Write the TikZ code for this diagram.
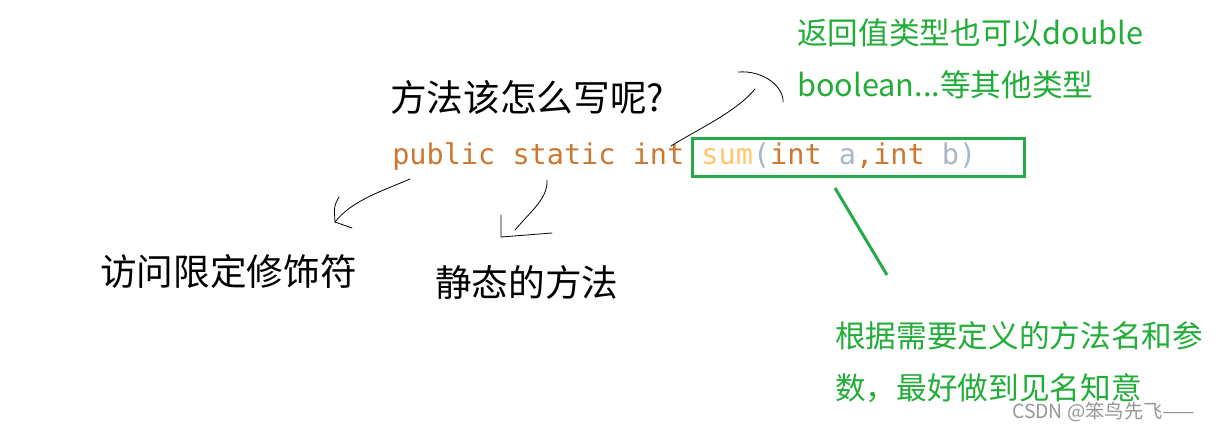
\documentclass[tikz,border=0pt]{standalone}
\usepackage{fontspec}
\newfontfamily\cjk{Noto Sans CJK SC}
\newfontfamily\codefont{DejaVu Sans Mono}
\definecolor{kw}{HTML}{CC7832}
\definecolor{fn}{HTML}{FFC66D}
\definecolor{par}{HTML}{A9B7C6}
\definecolor{notegreen}{RGB}{34,172,56}
\definecolor{framegreen}{RGB}{38,170,72}
\definecolor{wmgray}{RGB}{150,150,150}
\tikzset{
  headtxt/.style={inner sep=0pt,font=\cjk\fontsize{27.5}{33}\selectfont},
  tagtxt/.style={inner sep=0pt,font=\cjk\fontsize{27.5}{33}\selectfont},
  codetxt/.style={inner sep=0pt,font=\codefont\fontsize{21.4}{26}\selectfont},
  notetxt/.style={inner sep=0pt,align=left,text=notegreen,font=\cjk\fontsize{23}{39}\selectfont},
  wmtxt/.style={inner sep=0pt,text=wmgray,font=\cjk\fontsize{14.5}{16}\selectfont},
  sigbox/.style={draw=framegreen,line width=2.25pt,minimum width=249pt,minimum height=28.5pt},
  pen/.style={draw=black,line width=0.6pt,line cap=round,line join=round},
  hint/.style={draw=framegreen,line width=2.25pt}
}
\begin{document}
\begin{tikzpicture}[x=0.75pt,y=-0.75pt]
\useasboundingbox (0,0) rectangle (1219,425);

\node[headtxt,anchor=west] (Q) at (390,97.5) {方法该怎么写呢?};
\node[codetxt,anchor=base west] (C) at (392,164) {\textcolor{kw}{public static int} \textcolor{fn}{sum}\textcolor{par}{(}\textcolor{kw}{int} \textcolor{par}{a}\textcolor{kw}{,int} \textcolor{par}{b)}};
\node[sigbox] (S) at (858.5,157) {};

\node[tagtxt,anchor=west] (A) at (100,271) {访问限定修饰符};
\node[tagtxt,anchor=west] (B) at (435,282) {静态的方法};
\node[notetxt,anchor=west] (R) at (797,59) {返回值类型也可以double\\boolean...等其他类型};
\node[notetxt,anchor=west] (N) at (835,362) {根据需要定义的方法名和参\\数，最好做到见名知意};
\node[wmtxt,anchor=west] (W) at (1012,412) {CSDN @笨鸟先飞——};

% hand drawn arrows
\coordinate (a0) at (410,179);
\coordinate (a1) at (335,222);
\coordinate (b0) at (547,180);
\coordinate (b1) at (515,230);
\coordinate (b2) at (501,237);
\coordinate (r0) at (671,146);
\coordinate (r1) at (755,89);
\coordinate (r2) at (738,72);
\coordinate (r3) at (783,102);
\coordinate (g0) at (835,188);
\coordinate (g1) at (887,275);

\draw[pen] (a0) .. controls (385,190) and (352,200) .. (a1);
\draw[pen] (339,197) .. controls (334,206) .. (a1) -- (352,228);
\draw[pen] (b0) .. controls (548,198) and (532,210) .. (b1);
\draw[pen] (501,215) -- (b2) -- (552,233);
\draw[pen] (r0) .. controls (700,128) and (736,112) .. (r1);
\draw[pen] (r2) .. controls (765,70) and (784,88) .. (r3);
\draw[hint] (g0) -- (g1);
\end{tikzpicture}
\end{document}
